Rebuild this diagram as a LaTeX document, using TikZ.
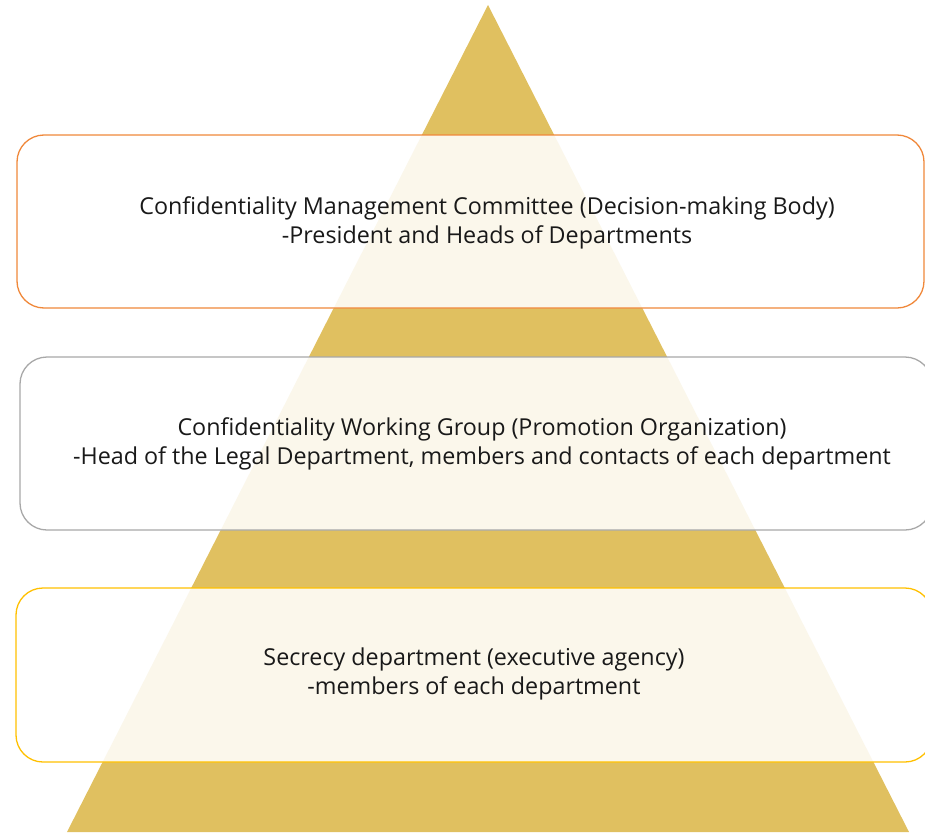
\documentclass[tikz,border=0pt]{standalone}
\usepackage{fontspec}
\setmainfont{Open Sans}
\definecolor{gold}{HTML}{E0C060}
\definecolor{borderA}{HTML}{F0883A}
\definecolor{borderB}{HTML}{A8A8A8}
\definecolor{borderC}{HTML}{FFC000}
\begin{document}
\begin{tikzpicture}[x=1pt,y=-1pt,
  layerbox/.style={draw=#1, line width=1.3pt, rounded corners=27pt, fill=white, fill opacity=0.88, draw opacity=1},
  layertext/.style={align=center, font=\fontsize{23.3}{29.5}\selectfont, text=black!90}]
\useasboundingbox (0,0) rectangle (925,832);
\begin{scope}
\clip (0,0) rectangle (925,832);
\fill[gold] (488,5) -- (67,832) -- (909,832) -- cycle;
\draw[layerbox=borderA] (17,135) rectangle (924,308);
\draw[layerbox=borderB] (20,357) rectangle (932,530);
\draw[layerbox=borderC] (16,588) rectangle (932,762);
\end{scope}
\node[layertext] (t1) at (487,223) {Confidentiality Management Committee (Decision-making Body)\\-President and Heads of Departments};
\node[layertext] (t2) at (482,444) {Confidentiality Working Group (Promotion Organization)\\-Head of the Legal Department, members and contacts of each department};
\node[layertext] (t3) at (474,674) {Secrecy department (executive agency)\\-members of each department};
\end{tikzpicture}
\end{document}
